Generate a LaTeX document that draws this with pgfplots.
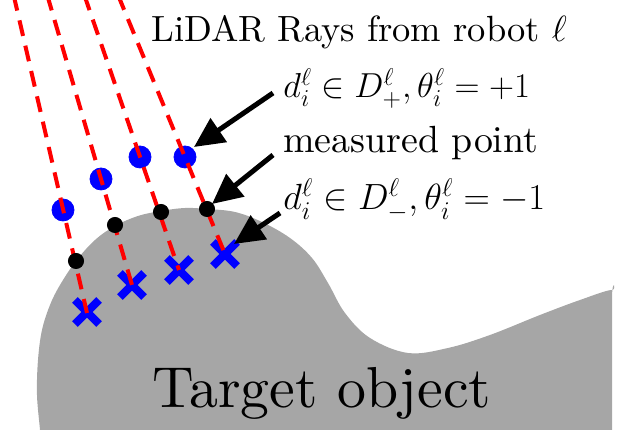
\RequirePackage{fix-cm}
\documentclass[border=0pt]{standalone}
\usepackage{fontspec}
\setmainfont{lmroman10-regular.otf}
\usepackage{pgfplots}
\pgfplotsset{compat=1.18}
\usetikzlibrary{arrows.meta}
\definecolor{objgray}{RGB}{166,166,166}
\definecolor{rayred}{RGB}{255,0,0}
\definecolor{ptblue}{RGB}{0,0,255}

\begin{document}
\begin{tikzpicture}
\begin{axis}[
    width=317bp, height=215bp, scale only axis,
    xmin=0, xmax=634, ymin=0, ymax=430,
    y dir=reverse,
    hide axis,
    clip mode=individual,
    ]
% frame (keeps the page size)
\addplot[draw=none] coordinates {(0,0) (634,0) (634,430) (0,430)};
% target object
\addplot[draw=none, fill=objgray, smooth, tension=0.6] coordinates {
    (612,445) (300,445) (41,445) (40,430) (37,395) (38,360) (42,330) (50,305)
    (60,285) (76,261) (95,240) (115,226) (138,216) (161,211) (185,208)
    (207,209) (235,212) (262,222) (290,238) (312,258) (328,283) (345,313)
    (370,338) (408,353) (448,348) (490,335) (540,315) (580,300) (612,290)
    (612,300) (612,445)};
% virtual points outside (theta = +1)
\addplot[only marks, mark=*, mark size=5.5bp, ptblue] coordinates {
    (63,210) (101,179) (140,157) (185,157)};
% virtual points inside (theta = -1)
\addplot[only marks, mark=x, mark size=8.5bp, ptblue, mark options={line width=4bp}] coordinates {
    (87,312) (132,285) (179,270) (225,254)};
% lidar rays
\addplot[rayred, line width=2bp, dash pattern=on 8bp off 5bp] coordinates {(13.6,-5) (87,313)};
\addplot[rayred, line width=2bp, dash pattern=on 8bp off 5bp] coordinates {(47.2,-5) (132,285)};
\addplot[rayred, line width=2bp, dash pattern=on 8bp off 5bp] coordinates {(84.3,-5) (179,270)};
\addplot[rayred, line width=2bp, dash pattern=on 8bp off 5bp] coordinates {(118,-5) (225,254)};
% measured points
\addplot[only marks, mark=*, mark size=3.8bp, black] coordinates {
    (76,261) (115,225) (161,212) (207,209)};
% arrows
\addplot[black, line width=2.5bp, -{Triangle[length=15bp,width=14bp]}] coordinates {(273,93) (194,147)};
\addplot[black, line width=2.5bp, -{Triangle[length=15bp,width=14bp]}] coordinates {(273,155) (212,204)};
\addplot[black, line width=2.5bp, -{Triangle[length=15bp,width=14bp]}] coordinates {(280,213) (234,244)};
% labels
\node[anchor=base west, inner sep=0pt, font=\fontsize{18.3}{22}\selectfont] at (axis cs:151,42) {LiDAR Rays from robot $\ell$};
\node[anchor=base west, inner sep=0pt, font=\fontsize{17.4}{21}\selectfont] at (axis cs:283,98) {$d_i^\ell \in D_+^\ell, \theta_i^\ell = +1$};
\node[anchor=base west, inner sep=0pt, font=\fontsize{19}{23}\selectfont] at (axis cs:283,153) {measured point};
\node[anchor=base west, inner sep=0pt, font=\fontsize{18.3}{22}\selectfont] at (axis cs:283,210) {$d_i^\ell \in D_-^\ell, \theta_i^\ell = -1$};
\node[anchor=base west, inner sep=0pt, font=\fontsize{29}{35}\selectfont] at (axis cs:152,408) {Target object};
\end{axis}
\end{tikzpicture}
\end{document}
